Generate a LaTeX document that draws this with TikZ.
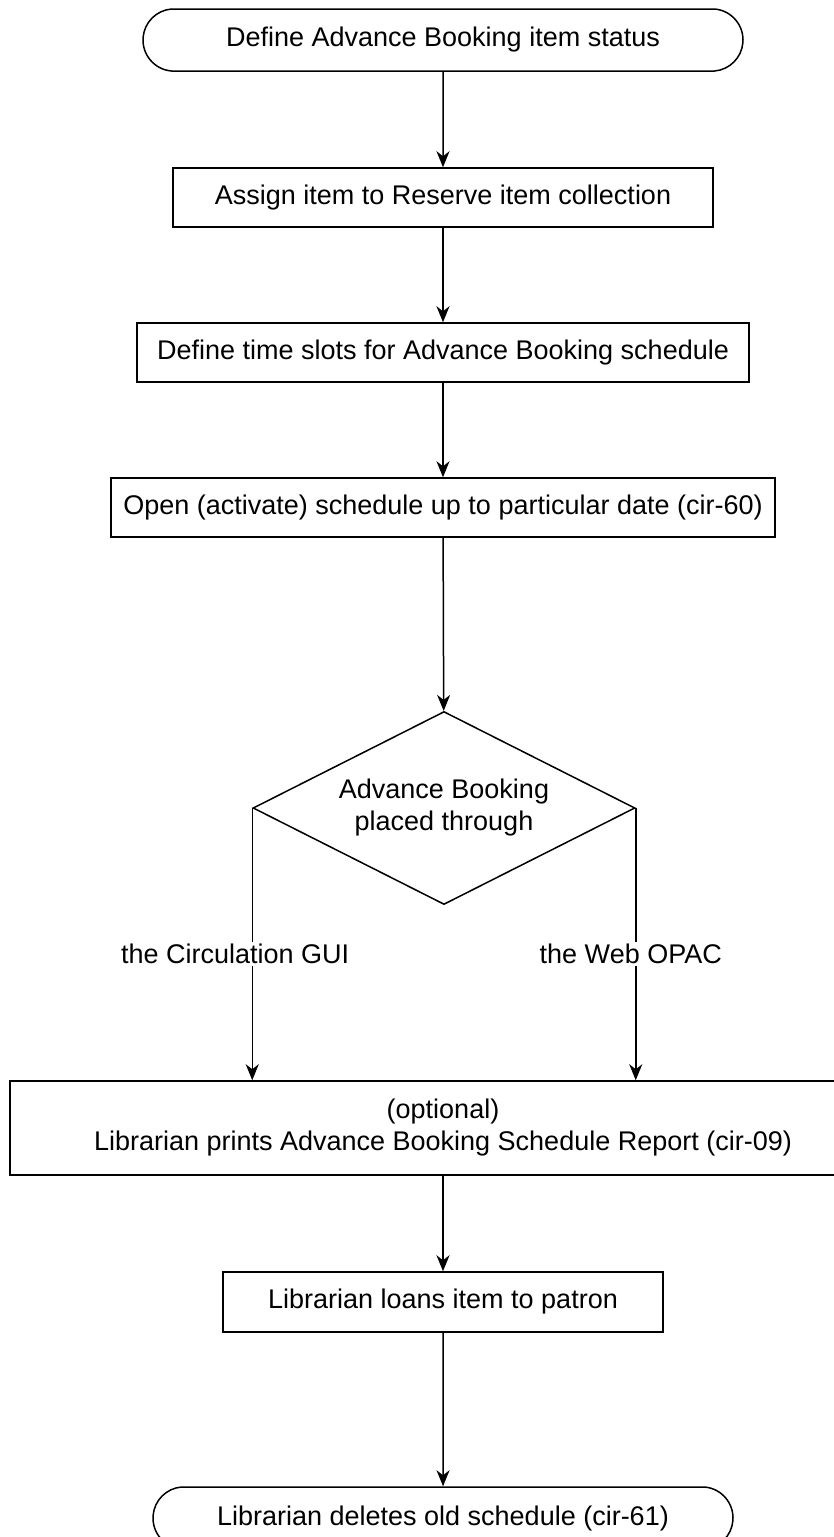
\documentclass[tikz,border=0pt]{standalone}
\usepackage{fontspec}
\setmainfont{Liberation Sans}
\usetikzlibrary{shapes.geometric,shapes.misc,arrows.meta}
\tikzset{
  base/.style={draw=black, line width=1.5pt, align=center, font=\fontsize{27}{32}\selectfont, inner sep=0pt},
  procbox/.style={base, rectangle},
  termbox/.style={base, rounded rectangle, rounded rectangle arc length=170},
  decbox/.style={base, diamond, aspect=1.98},
  flow/.style={draw=black, line width=1.5pt, -{Stealth[length=16pt,width=13pt,inset=5pt]}},
  lbl/.style={fill=white, font=\fontsize{27}{32}\selectfont, inner sep=2pt}
}
\begin{document}
\begin{tikzpicture}[x=1pt,y=-1pt]
\useasboundingbox (0,0) rectangle (833,1537);
\node[termbox, minimum width=600, minimum height=62] (t1) at (443,40) {Define Advance Booking item status};
\node[procbox, minimum width=540, minimum height=59] (b1) at (443,197.5) {Assign item to Reserve item collection};
\node[procbox, minimum width=612, minimum height=59] (b2) at (443,352.5) {Define time slots for Advance Booking schedule};
\node[procbox, minimum width=664, minimum height=59] (b3) at (443,507.5) {Open (activate) schedule up to particular date (cir-60)};
\node[decbox, minimum width=382, minimum height=193] (d) at (444,808) {Advance Booking\\placed through};
\node[procbox, minimum width=866, minimum height=94] (b4) at (443,1128) {(optional)\\Librarian prints Advance Booking Schedule Report (cir-09)};
\node[procbox, minimum width=440, minimum height=60] (b5) at (443,1302) {Librarian loans item to patron};
\node[termbox, minimum width=580, minimum height=62] (t2) at (443,1518) {Librarian deletes old schedule (cir-61)};
\draw[flow] (t1) -- (b1);
\draw[flow] (b1) -- (b2);
\draw[flow] (b2) -- (b3);
\draw[flow] (b3) -- (d);
\draw[flow] (d.west) -- node[lbl, pos=0.537, xshift=-17pt] (l1) {the Circulation GUI} (d.west |- b4.north);
\draw[flow] (d.east) -- node[lbl, pos=0.537, xshift=-5pt] (l2) {the Web OPAC} (d.east |- b4.north);
\draw[flow] (b4.south -| b5.north) -- (b5);
\draw[flow] (b5) -- (t2);
\end{tikzpicture}
\end{document}
